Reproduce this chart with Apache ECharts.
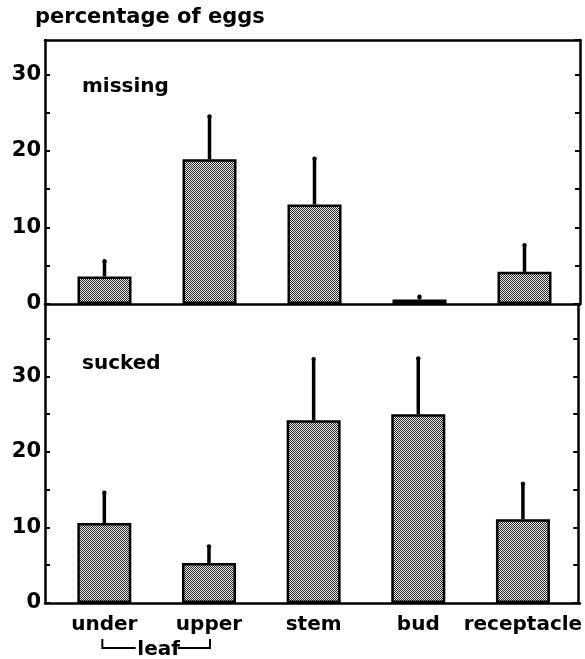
<!DOCTYPE html>
<html>
<head>
<meta charset="utf-8">
<script src="https://cdn.jsdelivr.net/npm/echarts@6/dist/echarts.min.js"></script>
<style>
  html, body { margin: 0; padding: 0; background: #fff; }
  #chart { width: 585px; height: 659px; }
</style>
</head>
<body>
<div id="chart"></div>
<script>
// Egg fate by oviposition site (percentage of eggs, mean with upper error)
const categories = ['under', 'upper', 'stem', 'bud', 'receptacle'];
const missingMean  = [3.6, 18.9, 13.0, 0.6, 4.2];
const missingUpper = [5.6, 24.5, 19.0, 0.95, 7.7];
const suckedMean   = [10.6, 5.3, 24.2, 25.0, 11.1];
const suckedUpper  = [14.6, 7.5, 32.3, 32.4, 15.8];
const yLabelValues = [0, 10, 20, 30];
const panelTitles  = ['missing', 'sucked'];

const FONT = 'DejaVu Sans';
const INK = '#000';

// fine dithered grey fill for the bars
function makePattern() {
  const c = document.createElement('canvas');
  c.width = 4; c.height = 4;
  const g = c.getContext('2d');
  for (let y = 0; y < 4; y++) {
    for (let x = 0; x < 4; x++) {
      g.fillStyle = ((x + y) % 2 === 0) ? '#262626' : '#ececec';
      g.fillRect(x, y, 1, 1);
    }
  }
  return c;
}
const barFill = { image: makePattern(), repeat: 'repeat' };

const chart = echarts.init(document.getElementById('chart'), null, { renderer: 'canvas' });

const panelTop = [40, 304];
const panelHeight = [264, 299];
const yMax = [34.5, 39.6];

const grids = [];
const xAxes = [];
const yAxes = [];
const series = [];

function yLabelFormatter(v) {
  return yLabelValues.indexOf(v) >= 0 ? String(v) : '';
}

for (let p = 0; p < 2; p++) {
  // bar grid
  grids.push({ left: 52, right: 8, top: panelTop[p], height: panelHeight[p] });
  xAxes.push({
    type: 'category', gridIndex: p, data: categories, position: 'bottom',
    axisLine: { show: false }, axisTick: { show: false },
    axisLabel: {
      show: p === 1, interval: 0, hideOverlap: false, margin: 12, color: INK,
      fontFamily: FONT, fontSize: 20, fontWeight: 'bold'
    }
  });
  // left value axis with inward ticks
  yAxes.push({
    type: 'value', gridIndex: p, min: 0, max: yMax[p], interval: 5,
    position: 'left', offset: 7,
    axisLine: { show: true, lineStyle: { color: INK, width: 2.5 } },
    axisTick: { show: true, inside: true, length: 5, lineStyle: { color: INK, width: 2 } },
    axisLabel: {
      margin: 4, color: INK, fontFamily: FONT, fontSize: 21, fontWeight: 'bold',
      formatter: yLabelFormatter,
      showMaxLabel: false
    },
    splitLine: { show: false }
  });
  // right value axis, ticks only
  yAxes.push({
    type: 'value', gridIndex: p, min: 0, max: yMax[p], interval: 5,
    position: 'right', offset: 3,
    axisLine: { show: true, lineStyle: { color: INK, width: 2.5 } },
    axisTick: { show: true, inside: true, length: 5, lineStyle: { color: INK, width: 2 } },
    axisLabel: { show: false },
    splitLine: { show: false }
  });
}

// frame grids: horizontal border lines spanning the full box
for (let p = 0; p < 2; p++) {
  const gi = grids.length;
  grids.push({ left: 45, right: 5, top: panelTop[p], height: panelHeight[p] });
  xAxes.push({
    type: 'value', gridIndex: gi, position: 'bottom', min: 0, max: 1,
    axisLine: { show: true, onZero: false, lineStyle: { color: INK, width: 2.5 } },
    axisTick: { show: false }, axisLabel: { show: false }, splitLine: { show: false }
  });
  if (p === 0) {
    xAxes.push({
      type: 'value', gridIndex: gi, position: 'top', min: 0, max: 1,
      axisLine: { show: true, onZero: false, lineStyle: { color: INK, width: 2.5 } },
      axisTick: { show: false }, axisLabel: { show: false }, splitLine: { show: false }
    });
  }
  yAxes.push({
    type: 'value', gridIndex: gi, min: 0, max: 1, show: false
  });
}

const means = [missingMean, suckedMean];
const uppers = [missingUpper, suckedUpper];

for (let p = 0; p < 2; p++) {
  series.push({
    type: 'bar', xAxisIndex: p, yAxisIndex: p * 2,
    data: means[p], barWidth: 54,
    itemStyle: { color: barFill, borderColor: '#000', borderWidth: 2.5 },
    z: 2, silent: true
  });
  series.push({
    type: 'custom', xAxisIndex: p, yAxisIndex: p * 2,
    data: categories.map((c, i) => [i, means[p][i], uppers[p][i]]),
    encode: { x: 0, y: [1, 2] },
    z: 3, silent: true,
    renderItem: function (params, api) {
      const base = api.coord([api.value(0), api.value(1)]);
      const top = api.coord([api.value(0), api.value(2)]);
      return {
        type: 'group',
        children: [
          { type: 'line', shape: { x1: base[0], y1: base[1], x2: top[0], y2: top[1] },
            style: { stroke: '#000', lineWidth: 3.5 } },
          { type: 'circle', shape: { cx: top[0], cy: top[1], r: 2.2 }, style: { fill: '#000' } }
        ]
      };
    }
  });
}

chart.setOption({
  animation: false,
  backgroundColor: '#fff',
  grid: grids,
  xAxis: xAxes,
  yAxis: yAxes,
  series: series
});

// text and the "leaf" bracket grouping the two leaf-surface categories
const xUnder = chart.convertToPixel({ xAxisIndex: 1 }, 'under');
const xUpper = chart.convertToPixel({ xAxisIndex: 1 }, 'upper');
const xMid = (xUnder + xUpper) / 2;
const bracketY = 648;
const bracketTop = 639;
const gap = 21;
const lineStyle = { stroke: '#000', lineWidth: 2 };

chart.setOption({
  graphic: [
    { type: 'text', left: 35, top: 7,
      style: { text: 'percentage of eggs', fill: INK, font: 'bold 21px "DejaVu Sans"' } },
    { type: 'text', left: 82, top: 77,
      style: { text: panelTitles[0], fill: INK, font: 'bold 20px "DejaVu Sans"' } },
    { type: 'text', left: 82, top: 354,
      style: { text: panelTitles[1], fill: INK, font: 'bold 20px "DejaVu Sans"' } },
    { type: 'polyline', shape: { points: [[xUnder - 2, bracketTop], [xUnder - 2, bracketY], [xMid - gap, bracketY]] }, style: lineStyle },
    { type: 'polyline', shape: { points: [[xMid + gap, bracketY], [xUpper + 1, bracketY], [xUpper + 1, bracketTop]] }, style: lineStyle },
    { type: 'text', x: xMid + 2, y: bracketY + 2,
      style: { text: 'leaf', fill: INK, font: 'bold 20px "DejaVu Sans"', textAlign: 'center', textVerticalAlign: 'middle' } }
  ]
});
</script>
</body>
</html>
